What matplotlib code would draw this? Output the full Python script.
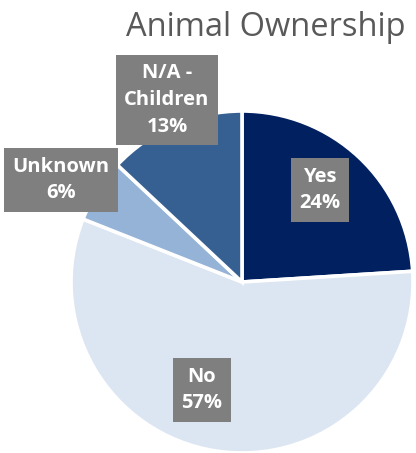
import matplotlib
matplotlib.use("Agg")
import matplotlib.pyplot as plt

categories = ["Yes", "No", "Unknown", "N/A -\nChildren"]
values = [24, 57, 6, 13]
colors = ["#002060", "#DCE6F2", "#95B3D7", "#376092"]
title = "Animal Ownership"

W, H = 416, 453
fig = plt.figure(figsize=(W / 100, H / 100), dpi=100)
ax = fig.add_axes([0, 0, 1, 1])

cx, cy, r = 242, H - 282, 171
wedges, _ = ax.pie(values, colors=colors, startangle=90, counterclock=False,
                   center=(cx, cy), radius=r, frame=True,
                   wedgeprops=dict(edgecolor="white", linewidth=2.6))
ax.set_xlim(0, W)
ax.set_ylim(0, H)
ax.set_aspect("equal")
ax.axis("off")

# label positions (pixel coords of box centres)
label_pos = [(320, 190), (202, 390), (61, 180), (167, 100)]
for cat, v, (px, py) in zip(categories, values, label_pos):
    ax.text(px, H - py, f"{cat}\n{v}%", ha="center", va="center",
            color="white", fontsize=14.5, fontweight="bold", family="Open Sans",
            linespacing=1.45,
            bbox=dict(boxstyle="square,pad=0.42", fc="#7F7F7F", ec="none"))

ax.text(266, H - 27, title, ha="center", va="center", color="#595959",
        fontsize=23.5, family="Open Sans")

fig.savefig("out.png", dpi=100)
